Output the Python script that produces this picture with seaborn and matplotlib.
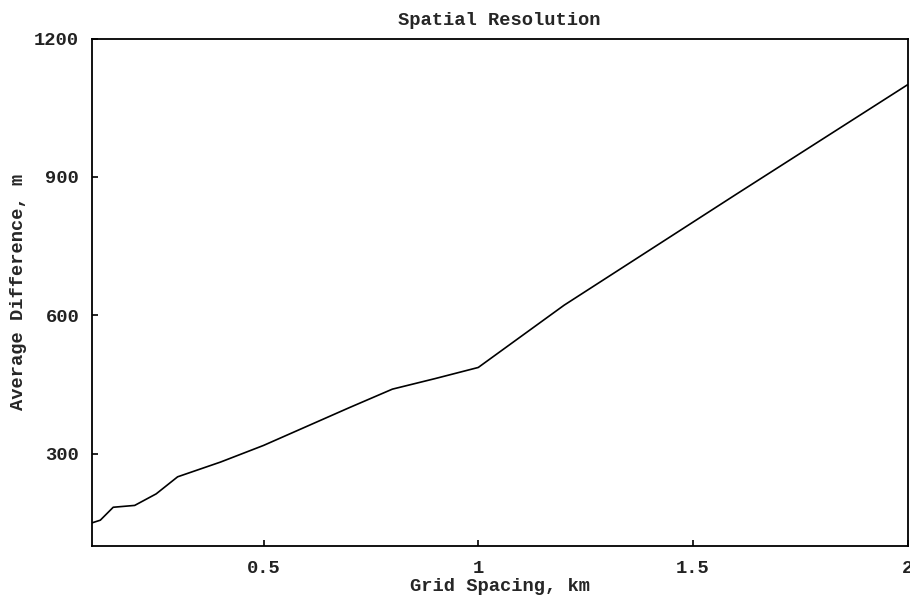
import matplotlib
matplotlib.use("Agg")
import matplotlib.pyplot as plt
import seaborn as sns
import pandas as pd

# grid spacing (km) vs average difference (m)
spacing = [0.1, 0.12, 0.15, 0.2, 0.25, 0.3, 0.35, 0.4, 0.5, 0.6, 0.7, 0.8,
           0.9, 1.0, 1.2, 1.4, 1.6, 1.8, 2.0]
avg_diff = [150, 156, 184, 188, 213, 250, 266, 282, 318, 359, 400, 440,
            463, 487, 622, 742, 862, 981, 1100]

x_ticks = [0.5, 1, 1.5, 2]
x_tick_labels = ["0.5", "1", "1.5", "2"]
y_ticks = [300, 600, 900, 1200]

df = pd.DataFrame({"spacing": spacing, "diff": avg_diff})

sns.set_style("ticks")
plt.rcParams["font.family"] = ["Liberation Mono", "DejaVu Sans Mono"]
plt.rcParams["font.size"] = 13.5
plt.rcParams["font.weight"] = "bold"

fig = plt.figure(figsize=(9.1, 5.97), dpi=100)
ax = fig.add_axes([0.1008, 0.0854, 0.8967, 0.8501])

sns.lineplot(data=df, x="spacing", y="diff", ax=ax, color="black", linewidth=1.2)

ax.set_xlim(0.1, 2)
ax.set_ylim(100, 1200)
ax.set_xticks(x_ticks)
ax.set_xticklabels(x_tick_labels)
ax.set_yticks(y_ticks)

# ticks drawn inward, short, like the old plotting tool
ax.tick_params(direction="in", length=4, width=1.2, color="black",
               labelsize=13.5, labelcolor="#222222")
ax.tick_params(axis="x", pad=10)
ax.tick_params(axis="y", pad=9)

for s in ax.spines.values():
    s.set_visible(True)
    s.set_color("black")
    s.set_linewidth(1.3)

ax.set_title("Spatial Resolution", fontsize=13.5, fontweight="bold", pad=10)
ax.set_xlabel("Grid Spacing, km", fontsize=13.5, fontweight="bold", labelpad=1)
ax.set_ylabel("Average Difference, m", fontsize=13.5, fontweight="bold", labelpad=5)

plt.savefig("out.png", dpi=100)
